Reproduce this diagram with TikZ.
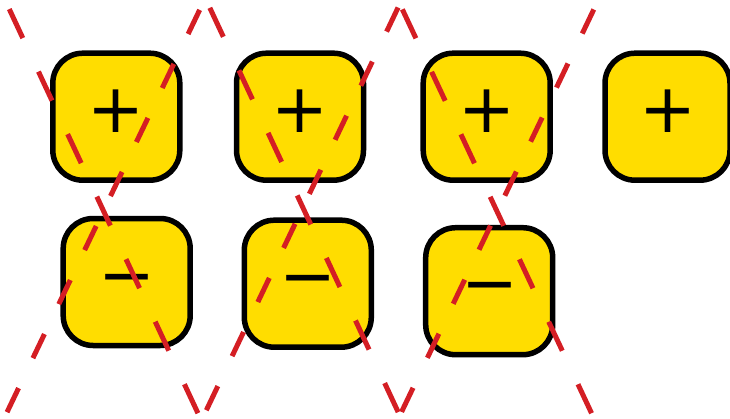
\documentclass[tikz,border=0pt]{standalone}
\usepackage{fontspec}
\newfontfamily\signfont{DejaVu Sans}
\definecolor{chipyellow}{RGB}{255,221,0}
\definecolor{zigred}{RGB}{212,30,36}

\begin{document}
\begin{tikzpicture}[x=1pt,y=-1pt,
  chip/.style={draw=black, line width=5.5pt, fill=chipyellow, rounded corners=30pt, minimum size=127pt, inner sep=0pt},
  sym/.style={font=\signfont\fontsize{68}{68}\selectfont, anchor=base, inner sep=0pt},
  zigdown/.style={draw=zigred, line width=5pt, dash pattern=on 32pt off 37pt},
  zigup/.style={draw=zigred, line width=5pt, dash pattern=on 26.7pt off 33.2pt}]
\useasboundingbox (0,0) rectangle (730,418);
\clip (0,0) rectangle (730,418);

% Top row
\node[chip] (b1) at (116.3,116.7) {};
\node[chip] (b2) at (300,116.7) {};
\node[chip] (b3) at (486.7,116.7) {};
\node[chip, minimum width=125pt] (b4) at (667.5,116.7) {};

% Bottom row
\node[chip] (b5) at (126.7,282) {};
\node[chip] (b6) at (307.8,283.7) {};
\node[chip] (b7) at (489.2,291.2) {};

% Signs
\node[sym] (s1) at (116.2,132.7) {+};
\node[sym] (s2) at (300,132.7) {+};
\node[sym] (s3) at (486.8,132.7) {+};
\node[sym] (s4) at (668.3,132.7) {+};
\node[sym] (s5) at (126.5,298.4) {−};
\node[sym] (s6) at (308,299.1) {−};
\node[sym] (s7) at (489.7,306.9) {−};

% Zigzag corners
\coordinate (a0) at (6.85,3.9);
\coordinate (a1) at (201.4,420.6);
\coordinate (a2) at (399.8,3.9);
\coordinate (a3) at (595,420.6);
\coordinate (c0) at (5.4,415.6);
\coordinate (c1) at (205.3,-1.9);
\coordinate (c2) at (399.8,415.6);
\coordinate (c3) at (599.2,-1.9);

% Zigzags
\draw[zigdown, dash phase=63.3pt] (a0) -- (a1);
\draw[zigup, dash phase=48.4pt] (a1) -- (a2);
\draw[zigdown, dash phase=63pt] (a2) -- (a3);
\draw[zigup, dash phase=56.1pt] (c0) -- (c1);
\draw[zigdown, dash phase=58.3pt] (c1) -- (c2);
\draw[zigup, dash phase=55.8pt] (c2) -- (c3);
\end{tikzpicture}
\end{document}
